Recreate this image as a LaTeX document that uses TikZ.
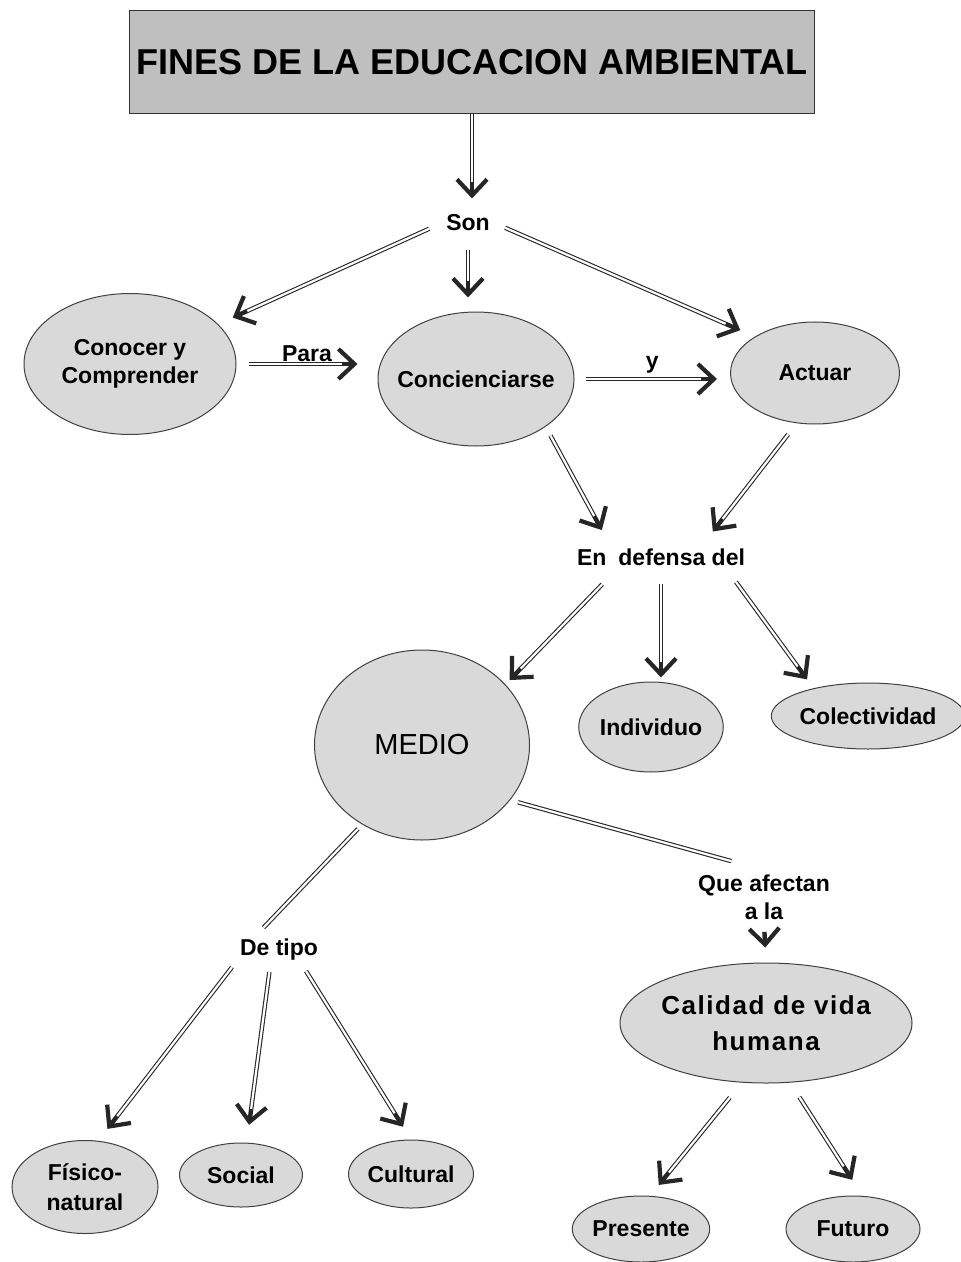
\documentclass[tikz,border=0pt]{standalone}
\usepackage{fontspec}
\setmainfont{Liberation Sans}
\newfontfamily\spaced[LetterSpace=6]{Liberation Sans}
\usetikzlibrary{arrows.meta}
\usetikzlibrary{shapes.geometric}

\begin{document}
\begin{tikzpicture}[x=0.5pt, y=-0.5pt,
  globo/.style={ellipse, draw=black!75, line width=0.5pt, fill=gray!30, inner sep=0pt, align=center,
    font=\bfseries\fontsize{11.5}{14}\selectfont},
  enlace/.style={inner sep=2pt, align=center, font=\bfseries\fontsize{11.5}{14}\selectfont},
  linea/.style={draw=black!85, line width=0.55pt, double=white, double distance=1.1pt},
  flecha/.style 2 args={draw=black!85, line width=2.2pt, shorten <=#1, shorten >=#2,
    -{Straight Barb[length=8pt, width=15pt, line width=2.1pt]},
    postaction={draw=white, line width=1.1pt, -, shorten <=#1, shorten >=#2+8pt}}]
\useasboundingbox (0,0) rectangle (960,1262);

% titulo
\node[draw=black!80, line width=0.6pt, fill=gray!50, minimum width=337.5pt, minimum height=51.5pt,
  font=\bfseries\fontsize{18}{20}\selectfont] (fines) at (472,62) {FINES DE LA EDUCACION AMBIENTAL};

% conceptos
\node[globo, minimum width=106pt, minimum height=70.5pt] (cyc) at (130,364) {Conocer y\\Comprender};
\node[globo, minimum width=98pt, minimum height=67pt, inner xsep=-6pt] (con) at (476,379) {Concienciarse};
\node[globo, minimum width=84.5pt, minimum height=51pt] (act) at (815,373) {Actuar};
\node[globo, minimum width=107.5pt, minimum height=95pt, font=\fontsize{14.5}{16}\selectfont] (medio) at (422,745) {MEDIO};
\node[globo, minimum width=66.5pt, minimum height=45pt] (ind) at (651,727) {Individuo};
\node[globo, minimum width=92pt, minimum height=33pt] (col) at (868,716) {Colectividad};
\node[globo, minimum width=146pt, minimum height=60pt, inner xsep=-2pt,
  font=\spaced\bfseries\fontsize{13}{18}\selectfont] (cal) at (766,1023) {Calidad de vida\\humana};
\node[globo, minimum width=73pt, minimum height=46.5pt, font=\bfseries\fontsize{11.5}{15}\selectfont] (fis) at (85,1187) {Físico-\\natural};
\node[globo, minimum width=61.5pt, minimum height=32pt] (soc) at (241,1175) {Social};
\node[globo, minimum width=62.5pt, minimum height=34pt] (cul) at (411,1174) {Cultural};
\node[globo, minimum width=68pt, minimum height=33pt] (pre) at (641,1229) {Presente};
\node[globo, minimum width=67pt, minimum height=33pt] (fut) at (853,1229) {Futuro};

% palabras de enlace
\node[enlace] (son) at (468,223) {Son};
\node[enlace] (ed) at (661,557) {En\hspace{6pt}defensa del};
\node[enlace] (que) at (764,897) {Que afectan\\a la};
\node[enlace] (dt) at (279,950) {De tipo};

% conectores
\draw[flecha={0pt}{6pt}] (fines.south) -- (fines.south |- son.north);
\draw[flecha={7pt}{8pt}] (son.west) -- (cyc);
\draw[flecha={7pt}{7pt}] (son.south) -- (son.south |- con.north);
\draw[flecha={6pt}{8pt}] (son.east) -- (act.north west);
\draw[flecha={6pt}{10pt}] (cyc.east) -- (cyc.east -| con.west)
  node[enlace, midway, above=-2pt] {Para};
\draw[flecha={5.5pt}{6.5pt}] (con.east) -- (con.east -| act.west)
  node[enlace, midway, above] {y};
\draw[flecha={5pt}{8pt}] (con.south east) -- (ed.166);
\draw[flecha={7pt}{8pt}] (act.250) -- (ed.17);
\draw[flecha={10pt}{3pt}] (ed.196) -- (medio.36);
\draw[flecha={7pt}{2pt}] (ed.south) -- (ed.south |- ind.north);
\draw[flecha={7.5pt}{5.5pt}] (ed.349) -- (col.153);
\draw[linea, shorten <=4pt, shorten >=17pt] (medio.-32) -- (que.north);
\draw[flecha={4pt}{7.5pt}] (que.south) -- (cal.north);
\draw[linea, shorten <=3pt, shorten >=5pt] (medio.233) -- (dt.146);
\draw[flecha={3pt}{7.5pt}] (dt.196) -- (fis.74);
\draw[flecha={3.5pt}{9pt}] (dt.240) -- (soc.80);
\draw[flecha={3.5pt}{7.5pt}] (dt.327) -- (cul.north);
\draw[flecha={9.5pt}{7pt}] (cal.248) -- (pre.75);
\draw[flecha={8.5pt}{9.5pt}] (cal.292) -- (fut.74);
\end{tikzpicture}
\end{document}
